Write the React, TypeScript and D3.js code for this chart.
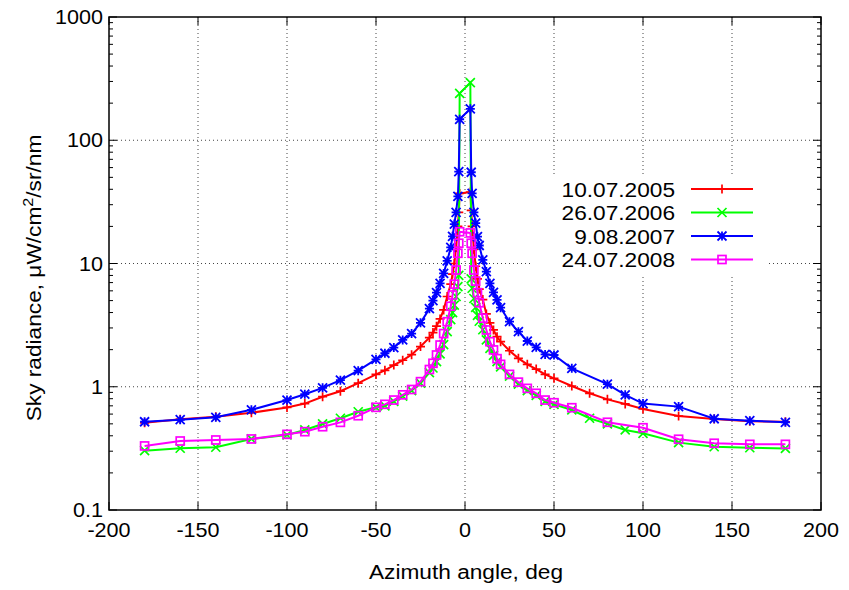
import React from 'react';
import * as d3 from 'd3';

// azimuth angles (AERONET almucantar), left then right of the sun
const angles = [
  -180, -160, -140, -120, -100, -90, -80, -70, -60, -50, -45, -40, -35, -30, -25, -20, -18, -16, -14, -12, -10, -8, -7, -6, -5, -4, -3.5, -3,
  3, 3.5, 4, 5, 6, 7, 8, 10, 12, 14, 16, 18, 20, 25, 30, 35, 40, 45, 50, 60, 70, 80, 90, 100, 120, 140, 160, 180,
];

const red2005 = [
  0.51, 0.545, 0.57, 0.615, 0.68, 0.73, 0.83, 0.92, 1.07, 1.26, 1.36, 1.5, 1.64, 1.82, 2.12, 2.5, 2.75, 3.1, 3.55, 4.2, 5.4, 6.8, 8.2, 10, 13.5, 20, 26, 37,
  38, 27, 20, 13, 9.5, 7.5, 6.2, 5.1, 3.9, 3.3, 2.89, 2.55, 2.32, 1.96, 1.7, 1.52, 1.39, 1.26, 1.17, 1.014, 0.885, 0.79, 0.725, 0.66, 0.579, 0.547, 0.525, 0.52,
];
const green2006 = [
  0.303, 0.317, 0.323, 0.377, 0.406, 0.446, 0.499, 0.555, 0.627, 0.681, 0.7, 0.76, 0.84, 0.93, 1.07, 1.3, 1.42, 1.6, 1.85, 2.2, 2.8, 3.5, 4.0, 4.6, 5.4, 6.5, 8, 240,
  293, 7.5, 6.3, 5.2, 4.4, 3.8, 3.4, 2.9, 2.4, 2.05, 1.8, 1.6, 1.45, 1.22, 1.05, 0.93, 0.85, 0.76, 0.72, 0.648, 0.555, 0.5, 0.446, 0.419, 0.352, 0.326, 0.32, 0.316,
];
const blue2007 = [
  0.52, 0.54, 0.565, 0.65, 0.78, 0.87, 0.98, 1.13, 1.35, 1.67, 1.87, 2.08, 2.4, 2.7, 3.3, 4.3, 5.0, 5.8, 6.9, 8.3, 10.5, 13.5, 16.6, 20.9, 26, 35, 55.6, 148,
  180, 55, 37, 26, 21.3, 16.5, 14, 10.7, 8.6, 6.9, 5.84, 5.06, 4.38, 3.37, 2.8, 2.35, 2.09, 1.83, 1.81, 1.41, null, 1.05, 0.86, 0.73, 0.69, 0.55, 0.53, 0.515,
];
const magenta2008 = [
  0.331, 0.363, 0.37, 0.377, 0.411, 0.432, 0.474, 0.514, 0.582, 0.681, 0.72, 0.78, 0.86, 0.95, 1.1, 1.38, 1.55, 1.81, 2.18, 2.7, 3.37, 4.5, 5.55, 6.8, 8.85, 12.1, 14.6, 18.1,
  17.7, 14.6, 12.1, 8.85, 7.2, 5.8, 4.8, 3.6, 2.89, 2.32, 1.99, 1.69, 1.52, 1.26, 1.09, 0.97, 0.885, 0.78, 0.742, 0.676, null, 0.515, null, 0.465, 0.375, 0.348, 0.341, 0.341,
];

const seriesNames = ['10.07.2005', '26.07.2006', '9.08.2007', '24.07.2008'];
const seriesColors = ['#ff0000', '#00ff00', '#0000ff', '#ff00ff'];
const seriesMarkers = ['plus', 'cross', 'star', 'square'];

const xTicks = [-200, -150, -100, -50, 0, 50, 100, 150, 200];
const yTicks = [0.1, 1, 10, 100, 1000];
const yTickLabels = ['0.1', '1', '10', '100', '1000'];

const W = 849;
const H = 590;
const plot = { left: 109, right: 821, top: 17, bottom: 510 };
const FONT = '"Liberation Sans", Arial, sans-serif';
const SX = 1.08;

const x = d3.scaleLinear().domain([-200, 200]).range([plot.left, plot.right]);
const y = d3.scaleLog().domain([0.1, 1000]).range([plot.bottom, plot.top]);

function Txt({ x, y, anchor = 'start', size = 20, children, rotate = 0 }: any) {
  return (
    <text
      transform={`translate(${x},${y}) rotate(${rotate}) scale(${SX},1)`}
      textAnchor={anchor}
      fontFamily={FONT}
      fontSize={size}
      fill="#000"
    >
      {children}
    </text>
  );
}

function Marker({ kind, cx, cy, color }: any) {
  const s = 4.5;
  if (kind === 'plus')
    return <path d={`M${cx - s},${cy}H${cx + s}M${cx},${cy - s}V${cy + s}`} stroke={color} strokeWidth={1.7} fill="none" />;
  if (kind === 'cross')
    return <path d={`M${cx - s},${cy - s}L${cx + s},${cy + s}M${cx - s},${cy + s}L${cx + s},${cy - s}`} stroke={color} strokeWidth={1.7} fill="none" />;
  if (kind === 'star')
    return (
      <path
        d={`M${cx - s},${cy}H${cx + s}M${cx},${cy - s}V${cy + s}M${cx - s},${cy - s}L${cx + s},${cy + s}M${cx - s},${cy + s}L${cx + s},${cy - s}`}
        stroke={color}
        strokeWidth={1.8}
        fill="none"
      />
    );
  return <rect x={cx - 4} y={cy - 4} width={8} height={8} stroke={color} strokeWidth={1.7} fill="none" />;
}

export default function App() {
  const allSeries = [red2005, green2006, blue2007, magenta2008];
  const line = d3
    .line<[number, number]>()
    .x((d) => x(d[0]))
    .y((d) => y(d[1]));

  const minorY: number[] = [];
  for (let e = -1; e < 3; e++) for (let m = 2; m <= 9; m++) minorY.push(m * Math.pow(10, e));

  const legendRows = [189, 212.5, 236, 259.5];

  return (
    <svg width={W} height={H} style={{ position: 'absolute', left: 0, top: 0, background: '#fff' }}>
      <rect width={W} height={H} fill="#fff" />
      {/* grid */}
      <g stroke="#444" strokeWidth={1} strokeDasharray="1,3">
        {xTicks.slice(1, -1).map((t) => (
          <line key={'gx' + t} x1={x(t)} x2={x(t)} y1={plot.top} y2={plot.bottom} />
        ))}
        {yTicks.slice(1, -1).map((t) => (
          <line key={'gy' + t} x1={plot.left} x2={plot.right} y1={y(t)} y2={y(t)} />
        ))}
      </g>
      {/* legend backdrop hides grid */}
      <rect x={533} y={174} width={235} height={100} fill="#fff" />
      {/* ticks */}
      <g stroke="#000" strokeWidth={1}>
        {xTicks.map((t) => (
          <g key={'tx' + t}>
            <line x1={x(t)} x2={x(t)} y1={plot.bottom} y2={plot.bottom - 8} />
            <line x1={x(t)} x2={x(t)} y1={plot.top} y2={plot.top + 8} />
          </g>
        ))}
        {yTicks.map((t) => (
          <g key={'ty' + t}>
            <line x1={plot.left} x2={plot.left + 8} y1={y(t)} y2={y(t)} />
            <line x1={plot.right} x2={plot.right - 8} y1={y(t)} y2={y(t)} />
          </g>
        ))}
        {minorY.map((t) => (
          <g key={'my' + t}>
            <line x1={plot.left} x2={plot.left + 4} y1={y(t)} y2={y(t)} />
            <line x1={plot.right} x2={plot.right - 4} y1={y(t)} y2={y(t)} />
          </g>
        ))}
      </g>
      {/* series */}
      {allSeries.map((vals, i) => {
        const pts = angles
          .map((a, j) => [a, vals[j]] as [number, number | null])
          .filter((d) => d[1] != null) as [number, number][];
        return (
          <g key={'s' + i}>
            <path d={line(pts) || ''} fill="none" stroke={seriesColors[i]} strokeWidth={2} />
            {pts.map((d, j) => (
              <Marker key={j} kind={seriesMarkers[i]} cx={x(d[0])} cy={y(d[1])} color={seriesColors[i]} />
            ))}
          </g>
        );
      })}
      {/* frame */}
      <rect
        x={plot.left}
        y={plot.top}
        width={plot.right - plot.left}
        height={plot.bottom - plot.top}
        fill="none"
        stroke="#000"
        strokeWidth={1.5}
      />
      {/* tick labels */}
      {xTicks.map((t) => (
        <Txt key={'lx' + t} x={x(t)} y={537} anchor="middle">
          {t}
        </Txt>
      ))}
      {yTicks.map((t, i) => (
        <Txt key={'ly' + t} x={103} y={y(t) + 7} anchor="end">
          {yTickLabels[i]}
        </Txt>
      ))}
      {/* axis titles */}
      <Txt x={466} y={579} anchor="middle" size={21}>
        Azimuth angle, deg
      </Txt>
      <Txt x={41} y={278} anchor="middle" rotate={-90} size={21}>
        Sky radiance, μW/cm<tspan dy={-8} fontSize={15}>2</tspan>
        <tspan dy={8}>/sr/nm</tspan>
      </Txt>
      {/* legend */}
      {seriesNames.map((n, i) => (
        <g key={'lg' + i}>
          <Txt x={675} y={legendRows[i] + 7.5} anchor="end" size={21}>
            {n}
          </Txt>
          <line x1={691} x2={753} y1={legendRows[i]} y2={legendRows[i]} stroke={seriesColors[i]} strokeWidth={2} />
          <Marker kind={seriesMarkers[i]} cx={722} cy={legendRows[i]} color={seriesColors[i]} />
        </g>
      ))}
    </svg>
  );
}
